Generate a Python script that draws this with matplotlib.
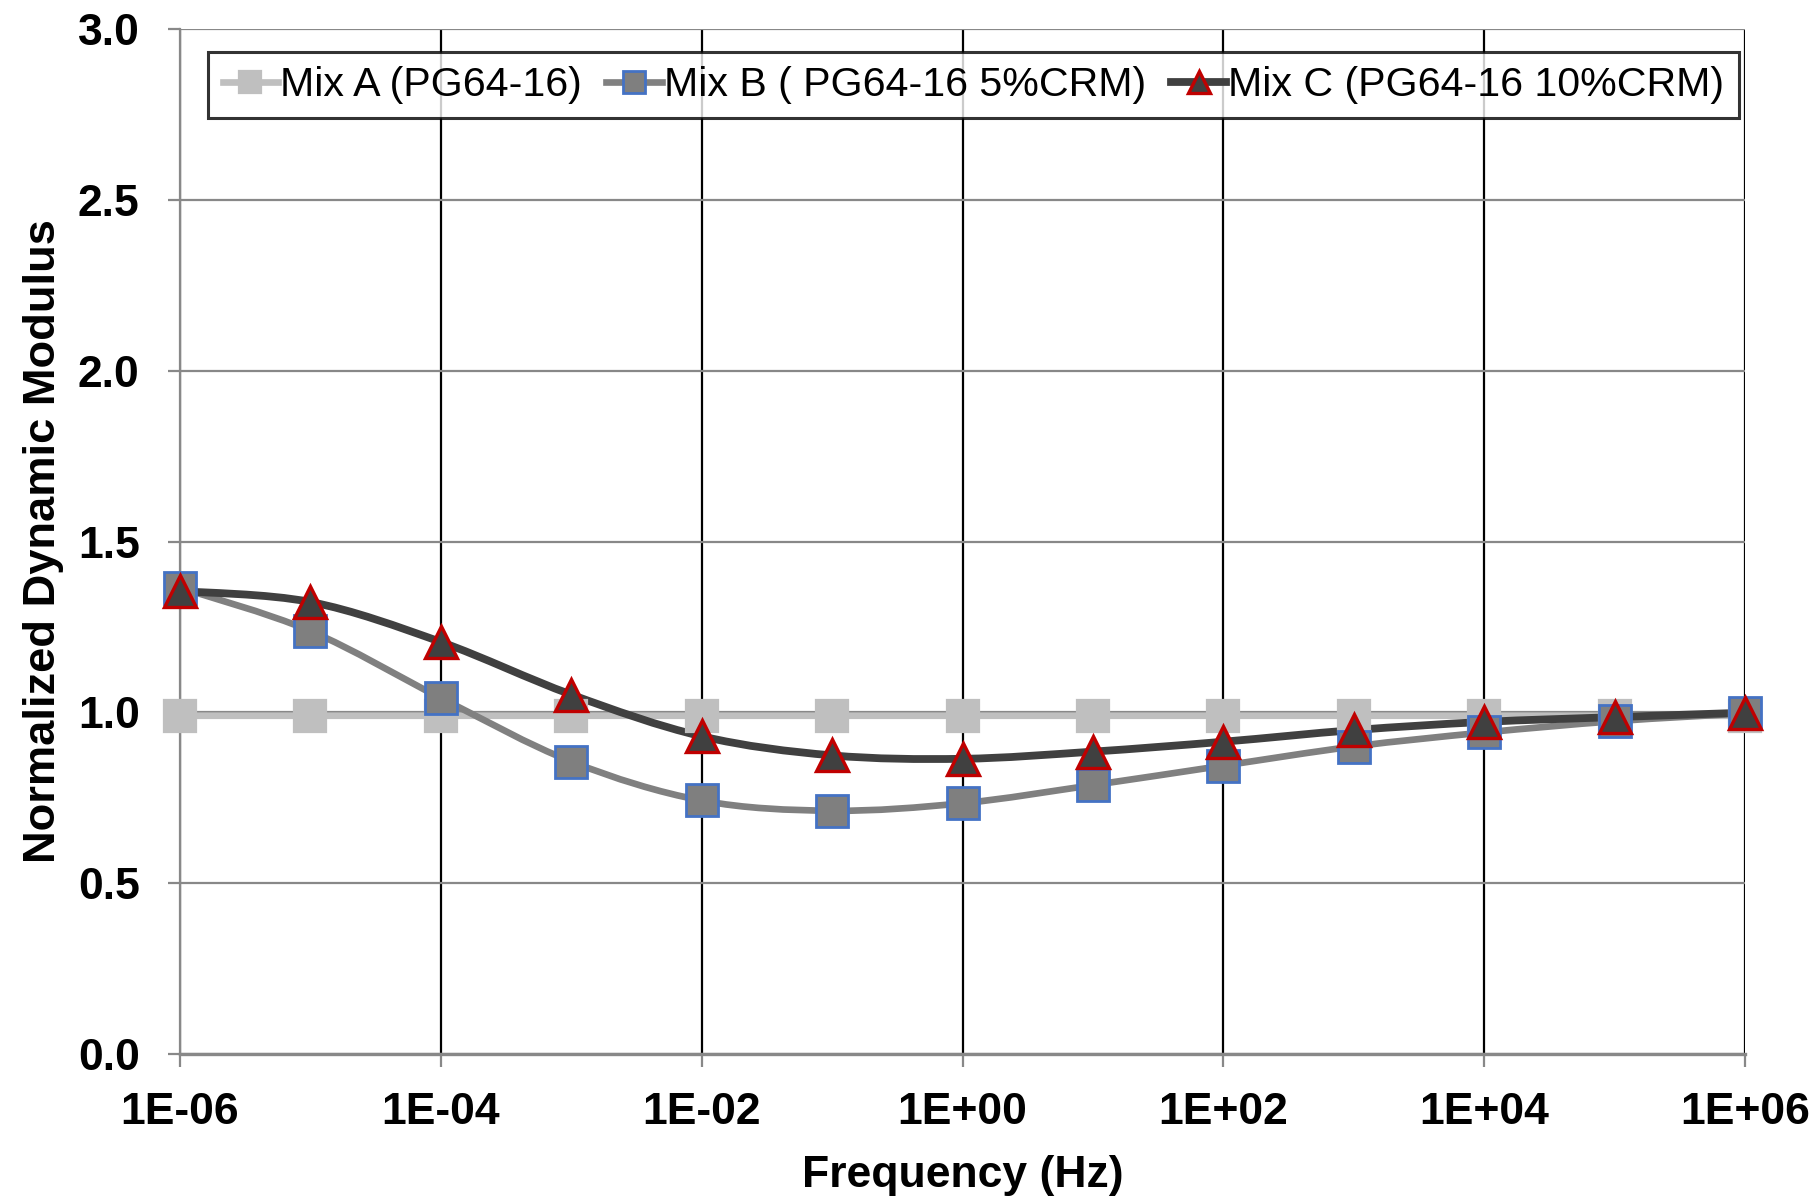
import numpy as np
import matplotlib.pyplot as plt
from matplotlib.path import Path
from matplotlib.patches import PathPatch
from matplotlib.lines import Line2D
from matplotlib.ticker import FixedLocator, FuncFormatter

plt.rcParams['font.family'] = ['Liberation Sans', 'DejaVu Sans']

# --- Data ---
exponents = np.arange(-6, 7)
freq = 10.0 ** exponents
mix_a = [0.99, 0.99, 0.99, 0.99, 0.99, 0.99, 0.99, 0.99, 0.99, 0.99, 0.99, 0.99, 0.99]
mix_b = [1.365, 1.238, 1.042, 0.856, 0.742, 0.712, 0.734, 0.787, 0.844, 0.900, 0.941, 0.974, 0.997]
mix_c = [1.355, 1.323, 1.206, 1.052, 0.930, 0.874, 0.864, 0.885, 0.914, 0.948, 0.972, 0.986, 0.999]
labels = ['Mix A (PG64-16)', 'Mix B ( PG64-16 5%CRM)', 'Mix C (PG64-16 10%CRM)']
xtick_exp = [-6, -4, -2, 0, 2, 4, 6]


def smooth_path(x, y):
    """Excel-like smoothed line: cubic Bezier through points, computed in log-x space"""
    lx = np.log10(x)
    y = np.asarray(y, dtype=float)
    n = len(lx)
    verts = [(x[0], y[0])]
    codes = [Path.MOVETO]
    for i in range(n - 1):
        i0 = max(i - 1, 0)
        i3 = min(i + 2, n - 1)
        c1x = lx[i] + (lx[i + 1] - lx[i0]) / 6
        c1y = y[i] + (y[i + 1] - y[i0]) / 6
        c2x = lx[i + 1] - (lx[i3] - lx[i]) / 6
        c2y = y[i + 1] - (y[i3] - y[i]) / 6
        verts += [(10 ** c1x, c1y), (10 ** c2x, c2y), (x[i + 1], y[i + 1])]
        codes += [Path.CURVE4] * 3
    return Path(verts, codes)


fig = plt.figure(figsize=(9.09, 6.02), dpi=200)
ax = fig.add_axes([180 / 1818, 150 / 1204, 1565 / 1818, 1025 / 1204])

styles = [
    dict(color='#BFBFBF', lw=2.4, marker='s', ms=11.5, mfc='#BFBFBF', mec='#BFBFBF', mew=0.8),
    dict(color='#808080', lw=2.4, marker='s', ms=11.5, mfc='#7F7F7F', mec='#4472C4', mew=1.0),
    dict(color='#404040', lw=2.8, marker='^', ms=11.5, mfc='#404040', mec='#C00000', mew=1.2),
]

handles = []
for data, st, lab in zip([mix_a, mix_b, mix_c], styles, labels):
    ax.add_patch(PathPatch(smooth_path(freq, data), fill=False, edgecolor=st['color'],
                           lw=st['lw'], zorder=3, capstyle='round'))
    ax.plot(freq, data, linestyle='none', marker=st['marker'], markersize=st['ms'],
            markerfacecolor=st['mfc'], markeredgecolor=st['mec'], markeredgewidth=st['mew'],
            zorder=4, clip_on=False)
    handles.append(Line2D([], [], color=st['color'], lw=st['lw'], marker=st['marker'],
                          markersize=st['ms'] * 0.7, markerfacecolor=st['mfc'],
                          markeredgecolor=st['mec'], markeredgewidth=st['mew']))

ax.set_xscale('log')
ax.set_xlim(1e-6, 1e6)
ax.set_ylim(0, 3.0)
ax.xaxis.set_major_locator(FixedLocator([10.0 ** e for e in xtick_exp]))
ax.xaxis.set_minor_locator(FixedLocator([]))
ax.xaxis.set_major_formatter(FuncFormatter(lambda v, p: '1E%+03d' % round(np.log10(v))))
ax.set_yticks(np.arange(0, 3.01, 0.5))
ax.yaxis.set_major_formatter(FuncFormatter(lambda v, p: '%.1f' % v))

for s in ['top', 'right']:
    ax.spines[s].set_visible(False)
ax.spines['left'].set_color('#888888')
ax.spines['left'].set_linewidth(0.8)
ax.spines['bottom'].set_color('#888888')
ax.spines['bottom'].set_linewidth(1.2)
ax.spines['left'].set_zorder(2)

ax.grid(True, axis='y', color='#888888', lw=0.8, zorder=0)
ax.grid(True, axis='x', color='black', lw=0.8, zorder=0)
ax.set_axisbelow(True)

ax.tick_params(axis='both', direction='out', length=4.5, width=0.8, color='#888888',
               labelsize=16)
ax.tick_params(axis='x', pad=9)
ax.tick_params(axis='y', pad=10)
for t in ax.get_xticklabels() + ax.get_yticklabels():
    t.set_fontweight('bold')

ax.set_xlabel('Frequency (Hz)', fontsize=16, fontweight='bold', labelpad=8)
ax.set_ylabel('Normalized Dynamic Modulus', fontsize=16.3, fontweight='bold', labelpad=5)

leg = ax.legend(handles, labels, loc='upper center', bbox_to_anchor=(0.507, 0.978), ncol=3,
                fontsize=14.8, frameon=True, fancybox=False, handlelength=1.35,
                handletextpad=0.05, columnspacing=0.6, borderpad=0.35, borderaxespad=0)
leg.get_frame().set_edgecolor('black')
leg.get_frame().set_linewidth(1.1)
leg.set_zorder(5)

plt.savefig('out.png', dpi=200)
plt.close()
